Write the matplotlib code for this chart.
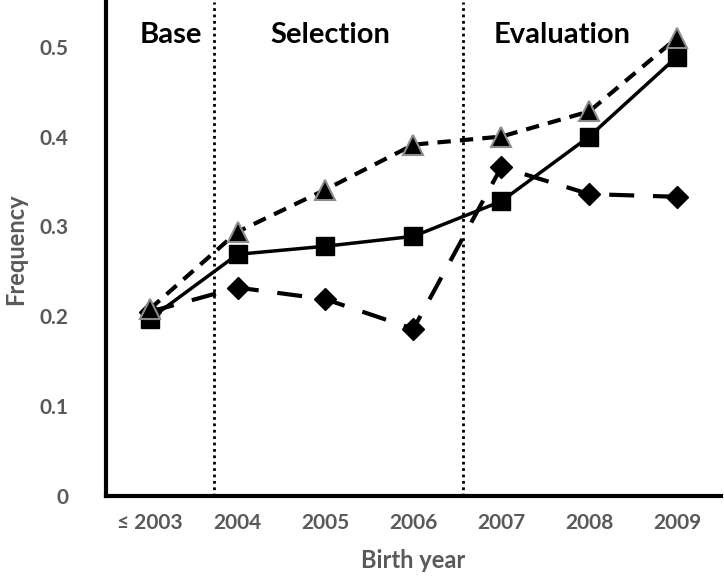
import matplotlib.pyplot as plt

# categories on the x axis
years = ['≤ 2003', '2004', '2005', '2006', '2007', '2008', '2009']

# series values
squares = [0.197, 0.269, 0.278, 0.289, 0.328, 0.400, 0.489]
triangles = [0.208, 0.294, 0.341, 0.391, 0.400, 0.428, 0.510]
diamonds = [0.205, 0.232, 0.219, 0.186, 0.366, 0.336, 0.333]

# period boundaries (in category units) and labels
bounds = [0.73, 3.56]
periods = ['Base', 'Selection', 'Evaluation']
period_x = [0.24, 2.05, 4.69]

plt.rcParams['font.family'] = ['Lato', 'DejaVu Sans']
grey = '#595959'

fig = plt.figure(figsize=(7.24, 5.85), dpi=100)
ax = fig.add_axes([0.146, 0.152, 0.85, 0.845])

x = list(range(len(years)))

# diamonds, long dashes
ax.plot(x, diamonds, color='black', lw=3, dashes=(6, 4.5),
        marker='D', markersize=11, markerfacecolor='black',
        markeredgecolor='black', zorder=3)
# squares, solid
ax.plot(x, squares, color='black', lw=2.5, marker='s', markersize=13,
        markerfacecolor='black', markeredgecolor='black', zorder=4)
# triangles, short dashes with grey edge
ax.plot(x, triangles, color='black', lw=3, dashes=(3.2, 2.2),
        marker='^', markersize=14, markerfacecolor='black',
        markeredgecolor='#8c8c8c', markeredgewidth=1.5, zorder=5)

for b in bounds:
    ax.axvline(b, color='black', lw=2, linestyle=(0, (1, 1.3)), zorder=2)

for px, name in zip(period_x, periods):
    ax.text(px, 0.513, name, ha='center', va='center', fontsize=21,
            fontweight='bold', color='black')

ax.set_xlim(-0.5, 6.5)
ax.set_ylim(0, 0.55)
ax.set_xticks(x)
ax.set_xticklabels(years)
ax.set_yticks([0, 0.1, 0.2, 0.3, 0.4, 0.5])
ax.set_yticklabels(['0', '0.1', '0.2', '0.3', '0.4', '0.5'])
ax.tick_params(length=0, labelsize=15, labelcolor=grey)
ax.tick_params(axis='x', pad=12)
ax.tick_params(axis='y', pad=27)
for lab in ax.get_xticklabels() + ax.get_yticklabels():
    lab.set_fontweight('bold')

ax.spines['top'].set_visible(False)
ax.spines['right'].set_visible(False)
ax.spines['left'].set_linewidth(3)
ax.spines['bottom'].set_linewidth(3)

ax.set_xlabel('Birth year', fontsize=17, fontweight='bold', color=grey, labelpad=12)
ax.set_ylabel('Frequency', fontsize=17, fontweight='bold', color=grey)
ax.yaxis.set_label_coords(-0.128, 0.5)

plt.savefig('out.png', dpi=100)
